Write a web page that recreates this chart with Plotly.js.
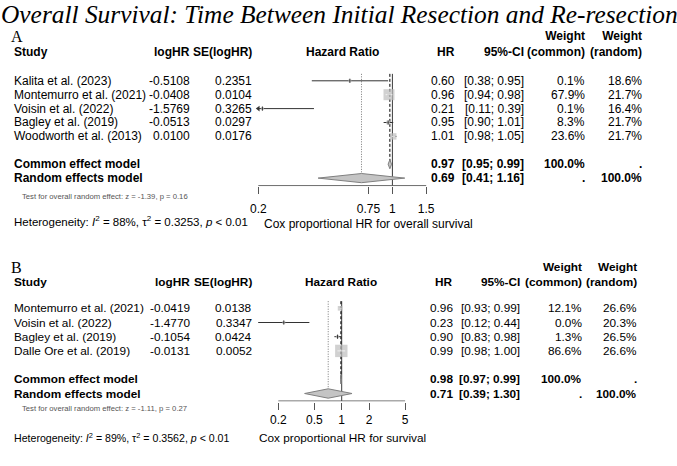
<!DOCTYPE html>
<html>
<head>
<meta charset="utf-8">
<script src="https://cdn.plot.ly/plotly-3.0.1.min.js"></script>
<style>
  html, body { margin: 0; padding: 0; background: #fff; }
  #chart { width: 677px; height: 466px; }
</style>
</head>
<body>
<div id="chart"></div>
<script>
// ---------- Panel A: overall survival ----------
const studiesA = ["Kalita et al. (2023)", "Montemurro et al. (2021)", "Voisin et al. (2022)",
                  "Bagley et al. (2019)", "Woodworth et al. (2013)"];
const logHRA   = [-0.5108, -0.0408, -1.5769, -0.0513, 0.0100];
const seA      = [0.2351, 0.0104, 0.3265, 0.0297, 0.0176];
const hrA      = [0.60, 0.96, 0.21, 0.95, 1.01];
const loA      = [0.38, 0.94, 0.11, 0.90, 0.98];
const hiA      = [0.95, 0.98, 0.39, 1.01, 1.05];
const wCommonA = [0.1, 67.9, 0.1, 8.3, 23.6];
const wRandomA = [18.6, 21.7, 16.4, 21.7, 21.7];
const commonA  = [0.97, 0.95, 0.99];   // HR, lower, upper
const randomA  = [0.69, 0.41, 1.16];
const hetA     = ["88", "0.3253"];     // I², tau²
const testA    = ["-1.39", "0.16"];    // z, p
const ticksA   = [0.2, 0.75, 1, 1.5];

// ---------- Panel B: survival ----------
const studiesB = ["Montemurro et al. (2021)", "Voisin et al. (2022)",
                  "Bagley et al. (2019)", "Dalle Ore et al. (2019)"];
const logHRB   = [-0.0419, -1.4770, -0.1054, -0.0131];
const seB      = [0.0138, 0.3347, 0.0424, 0.0052];
const hrB      = [0.96, 0.23, 0.90, 0.99];
const loB      = [0.93, 0.12, 0.83, 0.98];
const hiB      = [0.99, 0.44, 0.98, 1.00];
const wCommonB = [12.1, 0.0, 1.3, 86.6];
const wRandomB = [26.6, 20.3, 26.5, 26.6];
const commonB  = [0.98, 0.97, 0.99];
const randomB  = [0.71, 0.39, 1.30];
const hetB     = ["89", "0.3562"];
const testB    = ["-1.11", "0.27"];
const ticksB   = [0.2, 0.5, 1, 2, 5];

const W = 677, H = 466;
const SANS = "Liberation Sans, Arial, Helvetica, sans-serif";
const SERIF = "Liberation Serif, Times New Roman, serif";
const fx = v => v / W;
const fy = v => 1 - v / H;

// page geometry of each panel (pixels)
const geoA = { x0: 240, x1: 450, one: 392.4, perDec: 191.8, axisPx: 185.7, row1: 80.8, step: 13.9, topPx: 66,
               cols: [13.5, 189.5, 251.7, 455, 524.3, 585, 641.7], header: 51.7, hazard: 342, font: 12,
               letter: 36, xlabLeft: 264, xlabY: 223.5, hetY: 221, hetFont: 11.5, testY: 196,
               standoff: 4, clipLo: 0.2 };
const geoB = { x0: 240, x1: 450, one: 341.7, perDec: 90.7, axisPx: 401, row1: 308.3, step: 14.2, topPx: 295,
               cols: [14, 190, 251.7, 452.7, 519.7, 581.7, 636.7], header: 282.3, hazard: 341.3, font: 11.8,
               letter: 267, xlabLeft: 259, xlabY: 438, hetY: 437.7, hetFont: 10.6, testY: 408.7,
               standoff: 3.5, clipLo: null };

const panels = [
  { n: "",  label: "A", geo: geoA, studies: studiesA, logHR: logHRA, se: seA, hr: hrA, lo: loA, hi: hiA,
    wc: wCommonA, wr: wRandomA, common: commonA, random: randomA, het: hetA, test: testA, ticks: ticksA,
    xlab: "Cox proportional HR for overall survival" },
  { n: "2", label: "B", geo: geoB, studies: studiesB, logHR: logHRB, se: seB, hr: hrB, lo: loB, hi: hiB,
    wc: wCommonB, wr: wRandomB, common: commonB, random: randomB, het: hetB, test: testB, ticks: ticksB,
    xlab: "Cox proportional HR for survival" }
];

const traces = [];
const annotations = [];
const layout = {
  width: W, height: H,
  margin: { l: 0, r: 0, t: 0, b: 0 },
  paper_bgcolor: "#fff", plot_bgcolor: "rgba(0,0,0,0)",
  showlegend: false,
  font: { family: SANS, size: 12, color: "#000" },
  annotations: annotations
};

function note(text, x, y, o = {}) {
  annotations.push(Object.assign({
    text: text, x: x, y: y, xref: "paper", yref: "paper",
    xanchor: "left", yanchor: "middle", showarrow: false,
    borderpad: 0, borderwidth: 0,
    font: { family: SANS, size: 12, color: "#000" }
  }, o));
}

// title
note("<i>Overall Survival: Time Between Initial Resection and Re-resection</i>", fx(1), fy(14),
     { font: { family: SERIF, size: 25.4, color: "#000" } });

panels.forEach(P => {
  const g = P.geo;
  const xa = "x" + P.n, ya = "y" + P.n;
  const kOf = px => 1 + (px - g.row1) / g.step;
  const kAxis = kOf(g.axisPx);
  const nS = P.studies.length;
  const rows = P.studies.map((_, i) => i + 1);
  const rowC = nS + 2, rowR = nS + 3;
  const tMin = P.ticks[0], tMax = P.ticks[P.ticks.length - 1];
  const base = { xaxis: xa, yaxis: ya, hoverinfo: "skip", showlegend: false };
  const F = { family: SANS, size: g.font, color: "#000" };

  // reference lines: no effect, common effect, random effect
  traces.push(Object.assign({ type: "scatter", mode: "lines", x: [1, 1], y: [0.5, kAxis],
    line: { color: "#3a3a3a", width: 1 } }, base));
  traces.push(Object.assign({ type: "scatter", mode: "lines", x: [P.common[0], P.common[0]], y: [0.5, rowC],
    line: { color: "#000", width: 1, dash: "3px,2px" } }, base));
  traces.push(Object.assign({ type: "scatter", mode: "lines", x: [P.random[0], P.random[0]], y: [0.5, rowR - 0.33],
    line: { color: "#777", width: 1, dash: "1px,1.5px" } }, base));

  // confidence intervals
  const cx = [], cy = [];
  P.lo.forEach((lo, i) => {
    const l = (g.clipLo !== null && lo < g.clipLo) ? g.clipLo : lo;
    cx.push(l, P.hi[i], null); cy.push(rows[i], rows[i], null);
  });
  traces.push(Object.assign({ type: "scatter", mode: "lines", x: cx, y: cy,
    line: { color: "#333", width: 1 } }, base));

  // arrows where an interval runs past the axis limit
  const ax = [], ay = [];
  P.lo.forEach((lo, i) => { if (g.clipLo !== null && lo < g.clipLo) { ax.push(g.clipLo); ay.push(rows[i]); } });
  if (ax.length) traces.push(Object.assign({ type: "scatter", mode: "markers", x: ax, y: ay, cliponaxis: false,
    marker: { symbol: "triangle-left", size: 5, color: "#333" } }, base));

  // study squares (side ~ sqrt of common-effect weight)
  const sizes = P.wc.map(w => Math.max(1.33 * Math.sqrt(w), 3));
  traces.push(Object.assign({ type: "scatter", mode: "markers", x: P.hr, y: rows, cliponaxis: false,
    marker: { symbol: "square", size: sizes, color: "#bdbdbd", line: { width: 0 } } }, base));
  const inX = [], inY = [], inS = [];
  sizes.forEach((s, i) => { if (s > 4.5) { inX.push(P.hr[i]); inY.push(rows[i]); inS.push(s * 0.45); } });
  traces.push(Object.assign({ type: "scatter", mode: "markers", x: inX, y: inY, cliponaxis: false,
    marker: { symbol: "line-ew", size: inS, color: "#fff", line: { color: "#fff", width: 1 } } }, base));
  // small squares get a dark tick at the estimate
  const tX = [], tY = [];
  sizes.forEach((s, i) => { if (s <= 4.5) { tX.push(P.hr[i]); tY.push(rows[i]); } });
  traces.push(Object.assign({ type: "scatter", mode: "markers", x: tX, y: tY, cliponaxis: false,
    marker: { symbol: "line-ns", size: 3, color: "#333", line: { color: "#333", width: 1 } } }, base));

  // pooled diamonds
  [[P.common, rowC], [P.random, rowR]].forEach(([e, k]) => {
    traces.push(Object.assign({ type: "scatter", mode: "lines", fill: "toself",
      x: [e[1], e[0], e[2], e[0], e[1]], y: [k, k - 0.33, k, k + 0.33, k],
      fillcolor: "#c4c4c4", line: { color: "#808080", width: 1 } }, base));
  });

  // axis line between the outer ticks
  traces.push(Object.assign({ type: "scatter", mode: "lines", x: [tMin, tMax], y: [kAxis, kAxis],
    line: { color: "#555", width: 1 } }, base));

  layout["xaxis" + P.n] = {
    type: "log", anchor: ya,
    domain: [fx(g.x0), fx(g.x1)],
    range: [(g.x0 - g.one) / g.perDec, (g.x1 - g.one) / g.perDec],
    tickvals: P.ticks, ticktext: P.ticks.map(String),
    ticks: "outside", ticklen: 7, tickcolor: "#555", tickwidth: 1,
    ticklabelstandoff: g.standoff,
    showline: false, showgrid: false, zeroline: false, fixedrange: true,
    tickfont: { family: SANS, size: 12, color: "#000" }
  };
  layout["yaxis" + P.n] = {
    anchor: xa, visible: false, fixedrange: true,
    domain: [fy(g.axisPx + 0.5), fy(g.topPx)],
    range: [kOf(g.axisPx + 0.5), kOf(g.topPx)]
  };

  // panel letter and column headers
  note(P.label, fx(11), fy(g.letter), { font: { family: SERIF, size: 16, color: "#000" } });
  const c = g.cols;
  note("<b>Study</b>", fx(c[0]), fy(g.header), { font: F });
  note("<b>logHR</b>", fx(c[1]), fy(g.header), { xanchor: "right", font: F });
  note("<b>SE(logHR)</b>", fx(c[2]), fy(g.header), { xanchor: "right", font: F });
  note("<b>Hazard Ratio</b>", fx(g.hazard), fy(g.header), { xanchor: "center", font: F });
  note("<b>HR</b>", fx(c[3]), fy(g.header), { xanchor: "right", font: F });
  note("<b>95%-CI</b>", fx(c[4]), fy(g.header), { xanchor: "right", font: F });
  note("<b>Weight</b><br><b>(common)</b>", fx(c[5]), fy(g.header - 7.8), { xanchor: "right", align: "right", font: F });
  note("<b>Weight</b><br><b>(random)</b>", fx(c[6]), fy(g.header - 7.8), { xanchor: "right", align: "right", font: F });

  // study rows
  const rowNote = (text, x, k, anchor) =>
    note(text, fx(x), k, { yref: ya, xanchor: anchor, font: F });
  P.studies.forEach((s, i) => {
    const k = rows[i];
    rowNote(s, c[0], k, "left");
    rowNote(P.logHR[i].toFixed(4), c[1], k, "right");
    rowNote(P.se[i].toFixed(4), c[2], k, "right");
    rowNote(P.hr[i].toFixed(2), c[3], k, "right");
    rowNote("[" + P.lo[i].toFixed(2) + "; " + P.hi[i].toFixed(2) + "]", c[4], k, "right");
    rowNote(P.wc[i].toFixed(1) + "%", c[5], k, "right");
    rowNote(P.wr[i].toFixed(1) + "%", c[6], k, "right");
  });

  // pooled rows
  const pooled = [["Common effect model", P.common, rowC, "100.0%", "."],
                  ["Random effects model", P.random, rowR, ".", "100.0%"]];
  pooled.forEach(([name, e, k, wc, wr]) => {
    rowNote("<b>" + name + "</b>", c[0], k, "left");
    rowNote("<b>" + e[0].toFixed(2) + "</b>", c[3], k, "right");
    rowNote("<b>[" + e[1].toFixed(2) + "; " + e[2].toFixed(2) + "]</b>", c[4], k, "right");
    rowNote("<b>" + wc + "</b>", c[5], k, "right");
    rowNote("<b>" + wr + "</b>", c[6], k, "right");
  });

  // test, heterogeneity, axis label
  note("Test for overall random effect: z = " + P.test[0] + ", p = " + P.test[1], fx(22), fy(g.testY),
       { font: { family: SANS, size: 7.7, color: "#555" } });
  note("Heterogeneity: <i>I</i><sup>2</sup> = " + P.het[0] + "%, τ<sup>2</sup> = " + P.het[1] +
       ", <i>p</i> &lt; 0.01", fx(13.5), fy(g.hetY), { font: { family: SANS, size: g.hetFont, color: "#000" } });
  note(P.xlab, fx(g.xlabLeft), fy(g.xlabY), { font: F });
});

Plotly.newPlot("chart", traces, layout, { staticPlot: true, displayModeBar: false });
</script>
</body>
</html>
